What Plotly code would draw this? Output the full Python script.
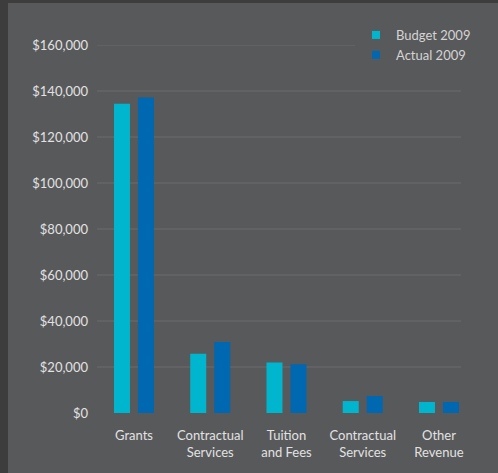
import plotly.graph_objects as go

categories = ["Grants", "Contractual<br>Services", "Tuition<br>and Fees", "Contractual<br>Services", "Other<br>Revenue"]
budget_2009 = [134500, 25800, 22000, 5200, 4800]
actual_2009 = [137200, 30900, 21200, 7400, 4800]
y_ticks = [0, 20000, 40000, 60000, 80000, 100000, 120000, 140000, 160000]
y_tick_labels = ["$0", "$20,000", "$40,000", "$60,000", "$80,000", "$100,000", "$120,000", "$140,000", "$160,000"]

BUDGET_COLOR = "#00b6ce"
ACTUAL_COLOR = "#0067b1"
PANEL = "#58595b"
OUTER = "#3d3d3d"
GRID = "#6c6d6f"
TEXT = "#e2e2e2"
FONT = "Lato"

x_idx = list(range(len(categories)))

fig = go.Figure()
fig.add_trace(go.Bar(x=x_idx, y=budget_2009, name="Budget 2009", marker_color=BUDGET_COLOR,
                     marker_line_width=0, showlegend=False))
fig.add_trace(go.Bar(x=x_idx, y=actual_2009, name="Actual 2009", marker_color=ACTUAL_COLOR,
                     marker_line_width=0, showlegend=False))
# legend entries with small square keys
fig.add_trace(go.Scatter(x=[None], y=[None], mode="markers", name="Budget 2009",
                         marker=dict(symbol="square", size=8, color=BUDGET_COLOR, line=dict(width=0))))
fig.add_trace(go.Scatter(x=[None], y=[None], mode="markers", name="Actual 2009",
                         marker=dict(symbol="square", size=8, color=ACTUAL_COLOR, line=dict(width=0))))

shapes = []
L, R, T, B = 97, 461, 45, 415.7
W, H = 498, 473
def px_x(p):
    return (p - L) / (R - L)
def px_y(p):
    return (B - p) / (B - T)
# outer panel
shapes.append(dict(type="rect", xref="paper", yref="paper", x0=px_x(8), x1=px_x(W + 5),
                   y0=px_y(H + 5), y1=px_y(3), fillcolor=PANEL, line=dict(width=0), layer="below"))
for v in y_ticks[1:]:
    x1 = 1 if v != y_ticks[-1] else px_x(355)
    shapes.append(dict(type="line", xref="paper", yref="y", x0=0, x1=x1, y0=v, y1=v,
                       line=dict(color=GRID, width=1), layer="below"))

fig.update_layout(
    width=W, height=H,
    margin=dict(l=L, r=W - R, t=T, b=H - B, pad=0),
    paper_bgcolor=OUTER,
    plot_bgcolor="rgba(0,0,0,0)",
    barmode="group",
    bargap=0.371,
    bargroupgap=0.333,
    font=dict(family=FONT, size=13, color=TEXT),
    shapes=shapes,
    legend=dict(x=px_x(356), y=px_y(20), xanchor="left", yanchor="top",
                bgcolor="rgba(0,0,0,0)", font=dict(family=FONT, size=13, color="#d4d4d4"),
                itemwidth=30, tracegroupgap=0),
    xaxis=dict(range=[-0.485, 4.289], tickvals=x_idx, ticktext=categories,
               showgrid=False, zeroline=False, showline=False, ticks="",
               ticklabelstandoff=10,
               tickfont=dict(family=FONT, size=13, color=TEXT)),
    yaxis=dict(range=[-1300, 160000], tickvals=y_ticks, ticktext=y_tick_labels,
               showgrid=False, zeroline=False, showline=False, ticks="",
               ticklabelstandoff=8,
               tickfont=dict(family=FONT, size=13, color=TEXT)),
)

fig.write_html("out.html")
